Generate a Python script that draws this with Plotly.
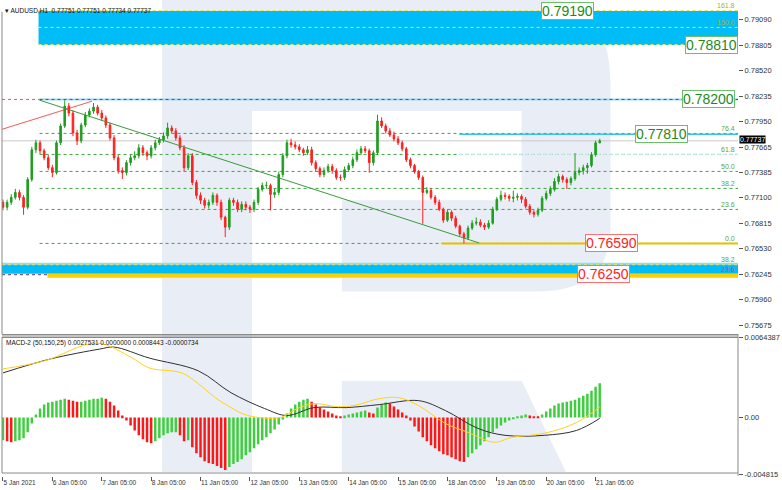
import plotly.graph_objects as go

# ---------------- data (2-hour bars, AUDUSD) ----------------
first_open = 0.77050
close = [0.76994, 0.77049, 0.77105, 0.77160, 0.77105, 0.76994, 0.77304, 0.77637, 0.77715, 0.77626,
         0.77548, 0.77437, 0.77382, 0.77715, 0.77903, 0.78125, 0.78047, 0.77826, 0.77737, 0.77914,
         0.78025, 0.78069, 0.78114, 0.78047, 0.77992, 0.77914, 0.77770, 0.77548, 0.77404, 0.77382,
         0.77493, 0.77548, 0.77570, 0.77659, 0.77604, 0.77570, 0.77659, 0.77715, 0.77748, 0.77792,
         0.77881, 0.77848, 0.77770, 0.77659, 0.77437, 0.77570, 0.77271, 0.77127, 0.77072, 0.77016,
         0.77049, 0.77127, 0.77049, 0.76883, 0.76772, 0.77072, 0.77049, 0.76972, 0.77027, 0.76994,
         0.76972, 0.77049, 0.77194, 0.77238, 0.77238, 0.77138, 0.77160, 0.77360, 0.77570, 0.77715,
         0.77692, 0.77670, 0.77637, 0.77604, 0.77637, 0.77493, 0.77426, 0.77360, 0.77404, 0.77449,
         0.77404, 0.77327, 0.77327, 0.77415, 0.77460, 0.77526, 0.77604, 0.77648, 0.77626, 0.77493,
         0.77604, 0.77959, 0.77903, 0.77848, 0.77803, 0.77759, 0.77715, 0.77648, 0.77526, 0.77460,
         0.77393, 0.77327, 0.77160, 0.77182, 0.77105, 0.77049, 0.76972, 0.76850, 0.76938, 0.76872,
         0.76783, 0.76695, 0.76650, 0.76761, 0.76816, 0.76828, 0.76794, 0.76772, 0.76816, 0.76972,
         0.77083, 0.77127, 0.77116, 0.77094, 0.77105, 0.77116, 0.77083, 0.77005, 0.76938, 0.76916,
         0.76961, 0.77094, 0.77149, 0.77194, 0.77282, 0.77338, 0.77304, 0.77271, 0.77316, 0.77382,
         0.77404, 0.77437, 0.77460, 0.77582, 0.77715, 0.77737]
high = [0.7708, 0.7708, 0.7714, 0.7720, 0.7719, 0.7713, 0.7733, 0.7767, 0.7775, 0.7774,
        0.7765, 0.7758, 0.7747, 0.7774, 0.7793, 0.7819, 0.7816, 0.7808, 0.7786, 0.7794,
        0.7806, 0.7810, 0.7816, 0.7814, 0.7808, 0.7802, 0.7794, 0.7780, 0.7758, 0.7744,
        0.7752, 0.7758, 0.7762, 0.7770, 0.7769, 0.7763, 0.7769, 0.7775, 0.7778, 0.7783,
        0.7794, 0.7791, 0.7788, 0.7780, 0.7769, 0.7760, 0.7760, 0.7730, 0.7716, 0.7710,
        0.7708, 0.7716, 0.7715, 0.7708, 0.7690, 0.7710, 0.7710, 0.7708, 0.7706, 0.7706,
        0.7702, 0.7708, 0.7722, 0.7727, 0.7728, 0.7726, 0.7720, 0.7739, 0.7760, 0.7775,
        0.7776, 0.7773, 0.7770, 0.7766, 0.7768, 0.7767, 0.7752, 0.7745, 0.7744, 0.7748,
        0.7748, 0.7743, 0.7736, 0.7745, 0.7749, 0.7756, 0.7764, 0.7768, 0.7768, 0.7765,
        0.7763, 0.7803, 0.7800, 0.7793, 0.7788, 0.7784, 0.7779, 0.7774, 0.7767, 0.7755,
        0.7748, 0.7741, 0.7735, 0.7722, 0.7721, 0.7713, 0.7708, 0.7699, 0.7697, 0.7696,
        0.7690, 0.7680, 0.7672, 0.7679, 0.7685, 0.7688, 0.7686, 0.7682, 0.7685, 0.7700,
        0.7711, 0.7718, 0.7716, 0.7714, 0.7718, 0.7715, 0.7714, 0.7711, 0.7703, 0.7696,
        0.7699, 0.7712, 0.7718, 0.7723, 0.7732, 0.7737, 0.7736, 0.7733, 0.7734, 0.7760,
        0.7744, 0.7747, 0.7749, 0.7761, 0.7774, 0.7776]
low = [0.7696, 0.7696, 0.7702, 0.7708, 0.7707, 0.7691, 0.7697, 0.7728, 0.7760, 0.7759,
       0.7752, 0.7741, 0.7733, 0.7736, 0.7769, 0.7788, 0.7801, 0.7779, 0.7769, 0.7771,
       0.7789, 0.7800, 0.7804, 0.7802, 0.7796, 0.7788, 0.7774, 0.7752, 0.7737, 0.7731,
       0.7735, 0.7746, 0.7752, 0.7754, 0.7757, 0.7752, 0.7754, 0.7763, 0.7769, 0.7772,
       0.7776, 0.7782, 0.7774, 0.7763, 0.7740, 0.7741, 0.7724, 0.7709, 0.7703, 0.7698,
       0.7698, 0.7702, 0.7701, 0.7685, 0.7666, 0.7674, 0.7701, 0.7694, 0.7694, 0.7696,
       0.7693, 0.7694, 0.7702, 0.7717, 0.7720, 0.7696, 0.7710, 0.7713, 0.7733, 0.7754,
       0.7766, 0.7764, 0.7761, 0.7757, 0.7758, 0.7746, 0.7739, 0.7733, 0.7733, 0.7738,
       0.7737, 0.7730, 0.7729, 0.7730, 0.7739, 0.7743, 0.7750, 0.7758, 0.7760, 0.7738,
       0.7746, 0.7758, 0.7788, 0.7782, 0.7778, 0.7773, 0.7769, 0.7762, 0.7750, 0.7743,
       0.7737, 0.7730, 0.7681, 0.7714, 0.7708, 0.7702, 0.7695, 0.7682, 0.7683, 0.7684,
       0.7676, 0.7667, 0.7659, 0.7663, 0.7674, 0.7679, 0.7677, 0.7674, 0.7675, 0.7680,
       0.7695, 0.7706, 0.7708, 0.7706, 0.7705, 0.7707, 0.7704, 0.7698, 0.7691, 0.7688,
       0.7689, 0.7694, 0.7707, 0.7712, 0.7717, 0.7725, 0.7727, 0.7720, 0.7724, 0.7729,
       0.7735, 0.7736, 0.7737, 0.7744, 0.7756, 0.7771]

macd_hist = [-0.00184, -0.00192, -0.00200, -0.00192, -0.00184, -0.00168, -0.00120, -0.00048, 0.00024, 0.00072,
             0.00104, 0.00120, 0.00128, 0.00136, 0.00144, 0.00152, 0.00144, 0.00136, 0.00128, 0.00128,
             0.00136, 0.00144, 0.00152, 0.00152, 0.00160, 0.00152, 0.00128, 0.00096, 0.00056, 0.00016,
             -0.00024, -0.00064, -0.00104, -0.00144, -0.00176, -0.00200, -0.00208, -0.00192, -0.00168, -0.00144,
             -0.00128, -0.00120, -0.00120, -0.00144, -0.00192, -0.00184, -0.00240, -0.00288, -0.00320, -0.00352,
             -0.00368, -0.00376, -0.00392, -0.00408, -0.00424, -0.00400, -0.00376, -0.00360, -0.00336, -0.00304,
             -0.00280, -0.00248, -0.00216, -0.00184, -0.00160, -0.00128, -0.00096, -0.00056, -0.00016, 0.00032,
             0.00072, 0.00104, 0.00128, 0.00144, 0.00152, 0.00128, 0.00104, 0.00080, 0.00064, 0.00048,
             0.00032, 0.00016, 0.00008, 0.00016, 0.00024, 0.00032, 0.00040, 0.00048, 0.00056, 0.00040,
             0.00032, 0.00080, 0.00104, 0.00120, 0.00112, 0.00088, 0.00064, 0.00040, 0.00016, -0.00024,
             -0.00072, -0.00112, -0.00160, -0.00192, -0.00224, -0.00248, -0.00272, -0.00296, -0.00304, -0.00320,
             -0.00336, -0.00352, -0.00360, -0.00320, -0.00288, -0.00256, -0.00224, -0.00192, -0.00160, -0.00120,
             -0.00088, -0.00064, -0.00040, -0.00024, -0.00008, 0.00008, 0.00016, 0.00024, 0.00016, 0.00008,
             0.00004, 0.00024, 0.00048, 0.00072, 0.00096, 0.00112, 0.00120, 0.00128, 0.00136, 0.00144,
             0.00160, 0.00176, 0.00192, 0.00216, 0.00248, 0.0027531]
macd_x = [0, 11.5, 23.5, 27, 35.5, 47.5, 55.4, 63.6, 69, 75.6, 83.5, 91.4, 101, 107.5, 115.4, 122, 131.5, 139.4, 145]
macd_main = [0.0036, 0.00472, 0.00552, 0.00568, 0.0048, 0.00376, 0.0020, 0.00072, 0.00016, 0.0008,
             0.0008, 0.00104, 0.00136, 0.00056, -0.00088, -0.00144, -0.00144, -0.00104, -0.0000734]
signal_x = [0, 10, 22.8, 31.4, 35.5, 43.4, 47.5, 51.6, 55.4, 59.5, 67.4, 71.5, 75.6, 81, 85.2, 91.4,
            96.2, 101, 107.5, 113, 119.5, 123.6, 131.5, 139.4, 145]
macd_signal = [0.00392, 0.00456, 0.0060, 0.0048, 0.0040, 0.0036, 0.00272, 0.0016, 0.0008, 0.00016, 0.0,
               0.00072, 0.00112, 0.00088, 0.00096, 0.00152, 0.0016, 0.00096, -0.00048, -0.0012, -0.0020,
               -0.0016, -0.00128, -0.0004, 0.0008443]

price_tick_labels = ["0.79090", "0.78805", "0.78520", "0.78235", "0.77950", "0.77665", "0.77385",
                     "0.77100", "0.76815", "0.76530", "0.76245", "0.75960", "0.75675"]
macd_tick_labels = ["0.0064387", "0.00", "-0.004815"]
time_labels = ["5 Jan 2021", "6 Jan 05:00", "7 Jan 05:00", "8 Jan 05:00", "11 Jan 05:00", "12 Jan 05:00",
               "13 Jan 05:00", "14 Jan 05:00", "15 Jan 05:00", "18 Jan 05:00", "19 Jan 05:00",
               "20 Jan 05:00", "21 Jan 05:00"]
fib_levels = [0.7659, 0.7697, 0.77205, 0.77395, 0.77585, 0.7782, 0.7820]
fib_texts = ["0.0", "23.6", "38.2", "50.0", "61.8", "76.4", "100.0"]
fib_ext_levels = [0.78815, 0.79005, 0.79195]
fib_ext_texts = ["138.2", "150.0", "161.8"]
low_fib_levels = [0.76362, 0.7625]
low_fib_texts = ["38.2", "23.6"]
green_marks = [0.7919, 0.7881, 0.7820, 0.7781]
red_marks = [0.7659, 0.7625]
last_price = 0.77737
title_text = "AUDUSD,H1  0.77751 0.77751 0.77734 0.77737"
macd_title = "MACD-2 (50,150,25) 0.0027531 0.0000000 0.0008443 -0.0000734"

# ---------------- layout helpers ----------------
FONT = "Liberation Sans"
W, H = 782, 490
ML, MR, MT, MB = 2, 35, 2, 14
PW, PH = W - ML - MR, H - MT - MB
XR = [-0.24, 178.6]


def J(px):
    return XR[0] + (px - ML) * (XR[1] - XR[0]) / PW


def PX(px):
    return (px - ML) / PW


def PY(py):
    return (H - MB - py) / PH


x = list(range(len(close)))
opens = [first_open] + close[:-1]
hist_colors = ['#3dce3d' if i == 0 or macd_hist[i] >= macd_hist[i - 1] else '#ff1616'
               for i in range(len(macd_hist))]

GREEN = '#1f9e1f'
RED = '#ff2020'

fig = go.Figure()
fig.add_trace(go.Candlestick(
    x=x, open=opens, high=high, low=low, close=close, xaxis='x', yaxis='y',
    increasing=dict(line=dict(color=GREEN, width=1), fillcolor=GREEN),
    decreasing=dict(line=dict(color=RED, width=1), fillcolor=RED),
    whiskerwidth=0, hoverinfo='skip'))
fig.add_trace(go.Bar(x=x, y=macd_hist, marker=dict(color=hist_colors, line=dict(width=0)),
                     width=0.6, xaxis='x2', yaxis='y2', hoverinfo='skip'))
fig.add_trace(go.Scatter(x=macd_x, y=macd_main, mode='lines', xaxis='x2', yaxis='y2',
                         line=dict(color='#303030', width=1, shape='spline'), hoverinfo='skip'))
fig.add_trace(go.Scatter(x=signal_x, y=macd_signal, mode='lines', xaxis='x2', yaxis='y2',
                         line=dict(color='#ffd21a', width=1, shape='spline'), hoverinfo='skip'))

shapes = []
# watermark "R"
path = "M {:.4f},{:.4f} L {:.4f},{:.4f} ".format(PX(164), PY(-5), PX(545), PY(-5))
path += "C {:.4f},{:.4f} {:.4f},{:.4f} {:.4f},{:.4f} ".format(PX(602), PY(-5), PX(618), PY(30), PX(618), PY(85))
path += "L {:.4f},{:.4f} ".format(PX(618), PY(225))
path += "C {:.4f},{:.4f} {:.4f},{:.4f} {:.4f},{:.4f} ".format(PX(618), PY(272), PX(590), PY(290), PX(540), PY(290))
for (a, b) in [(346, 290), (346, 198), (528, 198), (528, 108), (255, 108), (255, 472), (164, 472)]:
    path += "L {:.4f},{:.4f} ".format(PX(a), PY(b))
path += "Z"
shapes.append(dict(type='path', xref='paper', yref='paper', path=path, fillcolor='#e9eef6',
                   line=dict(width=0), layer='below'))
leg = "M {:.4f},{:.4f} L {:.4f},{:.4f} L {:.4f},{:.4f} L {:.4f},{:.4f} Z".format(
    PX(346), PY(380), PX(528), PY(380), PX(573), PY(472), PX(346), PY(472))
shapes.append(dict(type='path', xref='paper', yref='paper', path=leg, fillcolor='#e9eef6',
                   line=dict(width=0), layer='below'))


def hline(y, x0, x1, color, width=1, dash='solid'):
    shapes.append(dict(type='line', xref='x', yref='y', x0=x0, x1=x1, y0=y, y1=y,
                       line=dict(color=color, width=width, dash=dash), layer='below'))


def rect(y0, y1, x0, x1, color):
    shapes.append(dict(type='rect', xref='x', yref='y', x0=x0, x1=x1, y0=y0, y1=y1,
                       fillcolor=color, line=dict(width=0), layer='below'))


# top blue zone
rect(fib_ext_levels[0] - 0.00005, green_marks[0], J(39), XR[1], '#00bdf8')
for lv in fib_ext_levels:
    hline(lv, J(39), XR[1], '#f2e34a', 1, 'dot')
# 100% line
hline(fib_levels[-1], XR[0], J(40), '#ff5050', 1, 'dot')
hline(fib_levels[-1], J(40), XR[1], '#9fd8f5', 2)
hline(fib_levels[-1], J(40), XR[1], '#555555', 1, 'dot')
# fib dotted levels
for lv in fib_levels[:-1]:
    hline(lv, J(40), XR[1], '#3aa83a', 1, 'dot')
hline(fib_levels[4], J(465), XR[1], '#c8ecf0', 1.5, 'dot')
# current price line
hline(last_price, XR[0], XR[1], '#c9c9c9', 1)
# cyan 0.7781
hline(green_marks[3], J(465), XR[1], '#3cc2ea', 1.5)
# yellow 0.7659
hline(red_marks[0], J(447), XR[1], '#e6c000', 2)
# lower blue band + yellow
rect(red_marks[1], low_fib_levels[0], XR[0], XR[1], '#00bdf8')
hline(low_fib_levels[0], XR[0], XR[1], '#8fdcfa', 2)
hline(low_fib_levels[0] - 0.0001, XR[0], XR[1], '#e8e070', 1, 'dot')
rect(red_marks[1] - 0.00045, red_marks[1], J(48), XR[1], '#ffd000')
hline(red_marks[1] - 0.0001, XR[0], J(50), '#404080', 1, 'dot')
# trend lines
shapes.append(dict(type='line', xref='x', yref='y', x0=J(0), y0=0.77859, x1=J(93), y1=0.78180,
                   line=dict(color='#ff5555', width=1), layer='below'))
shapes.append(dict(type='line', xref='x', yref='y', x0=J(40), y0=0.78192, x1=J(485), y1=0.76595,
                   line=dict(color='#3a9a3a', width=1)))
# frame lines
frame = '#8a8a8a'
for (x0, y0, x1, y1, w) in [(2, 8, 2, 333, 1), (2, 333.5, 747, 333.5, 1.5), (2, 336, 747, 336, 1.5),
                            (2, 336, 2, 473, 1), (2, 473, 747, 473, 1), (747, 333, 747, 476, 1)]:
    shapes.append(dict(type='line', xref='paper', yref='paper', x0=PX(x0), y0=PY(y0), x1=PX(x1), y1=PY(y1),
                       line=dict(color=frame, width=w)))

ann = []
# fib labels
for lv, t in zip(fib_levels, fib_texts):
    ann.append(dict(xref='paper', yref='y', x=PX(746), y=lv, text=t, showarrow=False, xanchor='right',
                    yanchor='bottom', yshift=-1, font=dict(family=FONT, size=7, color='#5aa63c')))
for lv, t in zip(fib_ext_levels, fib_ext_texts):
    ann.append(dict(xref='paper', yref='y', x=PX(746), y=lv, text=t, showarrow=False, xanchor='right',
                    yanchor='bottom', yshift=-1, font=dict(family=FONT, size=7, color='#9ab43c')))
for lv, t, c in zip(low_fib_levels, low_fib_texts, ['#5aa63c', '#b0507a']):
    ann.append(dict(xref='paper', yref='y', x=PX(746), y=lv, text=t, showarrow=False, xanchor='right',
                    yanchor='bottom', yshift=-1, font=dict(family=FONT, size=7, color=c)))
# price boxes
green_pos = [574, 720, 717, 670]
for lv, pxc in zip(green_marks, green_pos):
    ann.append(dict(xref='x', yref='y', x=J(pxc), y=lv, text="{:.5f}".format(lv), showarrow=False,
                    xanchor='center', yanchor='middle', bgcolor='white', bordercolor='#6cc06c',
                    borderwidth=1, borderpad=0, font=dict(family=FONT, size=14, color='#1c8a1c')))
red_pos = [619, 611]
for lv, pxc in zip(red_marks, red_pos):
    ann.append(dict(xref='x', yref='y', x=J(pxc), y=lv, text="{:.5f}".format(lv), showarrow=False,
                    xanchor='center', yanchor='middle', bgcolor='white', bordercolor='#ff7070',
                    borderwidth=1, borderpad=0, font=dict(family=FONT, size=14, color='#ff2222')))
# current price tag
ann.append(dict(xref='paper', yref='y', x=1.0, y=last_price, text="{:.5f}".format(last_price), showarrow=False,
                xanchor='left', yanchor='middle', xshift=1, yshift=1, bgcolor='black', borderpad=0,
                font=dict(family=FONT, size=7, color='white')))
# titles
ann.append(dict(xref='paper', yref='paper', x=PX(3), y=PY(7), text="\u25be " + title_text, showarrow=False,
                xanchor='left', yanchor='middle', font=dict(family=FONT, size=6.5, color='#111111')))
ann.append(dict(xref='paper', yref='paper', x=PX(4), y=PY(342), text=macd_title, showarrow=False,
                xanchor='left', yanchor='middle', font=dict(family=FONT, size=6.5, color='#111111')))

main_top = 1.0
main_bot = PY(333)
macd_top = PY(336)

yr_main = [0.79267 - 333 * 0.00011088, 0.79267 - 2 * 0.00011088]
macd_per_px = 0.00008
yr_macd = [(417 - 476) * macd_per_px, (417 - 336) * macd_per_px]

axis_font = dict(family=FONT, size=7.5, color='#333333')
fig.update_layout(
    width=W, height=H, autosize=False,
    margin=dict(l=ML, r=MR, t=MT, b=MB),
    paper_bgcolor='white', plot_bgcolor='rgba(0,0,0,0)',
    showlegend=False, boxgap=0.45,
    xaxis=dict(domain=[0, 1], range=XR, anchor='y', showticklabels=False, ticks='', showgrid=False,
               zeroline=False, showline=False, rangeslider=dict(visible=False), fixedrange=True),
    yaxis=dict(domain=[main_bot, main_top], range=yr_main, anchor='x', side='right',
               tickvals=[float(t) for t in price_tick_labels], ticktext=price_tick_labels,
               ticks='outside', ticklen=4, tickcolor='#555555', tickfont=axis_font,
               showgrid=False, zeroline=False, showline=False),
    xaxis2=dict(domain=[0, 1], range=XR, anchor='y2', tickvals=[12 * k for k in range(len(time_labels))],
                ticktext=time_labels, ticks='outside', ticklen=4, tickcolor='#555555',
                ticklabelposition='outside right',
                tickfont=dict(family=FONT, size=6.5, color='#333333'),
                showgrid=False, zeroline=False, showline=False),
    yaxis2=dict(domain=[0, macd_top], range=yr_macd, anchor='x2', side='right',
                tickvals=[0.0064387, 0.0, (417 - 474) * macd_per_px], ticktext=macd_tick_labels,
                ticks='outside', ticklen=4, tickcolor='#555555', tickfont=axis_font,
                showgrid=False, zeroline=False, showline=False),
    shapes=shapes, annotations=ann,
)

fig.write_html("out.html", config={'displayModeBar': False},
               post_script="document.body.style.margin='0';")
